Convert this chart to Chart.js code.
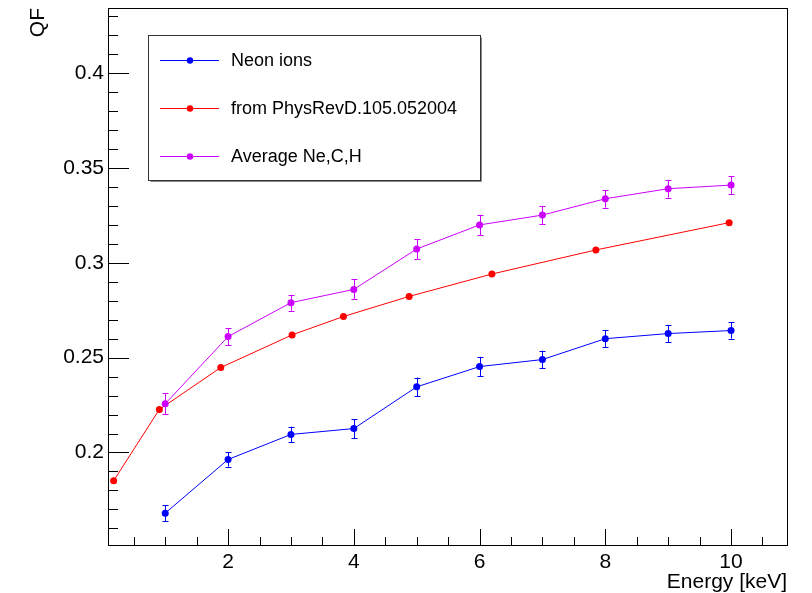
<!DOCTYPE html>
<html>
<head>
<meta charset="utf-8">
<script src="https://cdn.jsdelivr.net/npm/chart.js@4/dist/chart.umd.min.js"></script>
<style>
  html, body { margin: 0; padding: 0; background: #fff; }
  #wrap { width: 812px; height: 593px; }
</style>
</head>
<body>
<div id="wrap"><canvas id="c" width="812" height="593"></canvas></div>
<script>
// ---- data ----
const energies = [1, 2, 3, 4, 5, 6, 7, 8, 9, 10];
const neonQF   = [0.1680, 0.1963, 0.2095, 0.2126, 0.2346, 0.2453, 0.2490, 0.2600, 0.2627, 0.2643];
const neonErr  = [0.0043, 0.0038, 0.0041, 0.0050, 0.0049, 0.0051, 0.0047, 0.0046, 0.0046, 0.0043];
const avgQF    = [0.2257, 0.2611, 0.2790, 0.2860, 0.3073, 0.3200, 0.3252, 0.3338, 0.3391, 0.3410];
const avgErr   = [0.0056, 0.0046, 0.0042, 0.0053, 0.0053, 0.0053, 0.0049, 0.0047, 0.0047, 0.0047];
const prdE     = [0.18, 0.907, 1.884, 3.018, 3.835, 4.88, 6.196, 7.85, 9.97];
const prdQF    = [0.1851, 0.2227, 0.2448, 0.2620, 0.2717, 0.2823, 0.2941, 0.3068, 0.3212];
const seriesNames = ["Neon ions", "from PhysRevD.105.052004", "Average Ne,C,H"];
const xMajorTicks = [2, 4, 6, 8, 10];
const yMajorTicks = [0.2, 0.25, 0.3, 0.35, 0.4];
const xTitle = "Energy [keV]";
const yTitle = "QF";

const FONT = '"Liberation Sans", Arial, Helvetica, sans-serif';
const colors = ['#0000ff', '#ff0000', '#cc00ff'];

const toXY = (xs, ys) => xs.map((x, i) => ({ x: x, y: ys[i] }));

const errorsByDataset = [neonErr, null, avgErr];

const rootPlugin = {
  id: 'rootStyle',
  beforeDatasetsDraw(chart) {
    const ctx = chart.ctx;
    const xs = chart.scales.x, ys = chart.scales.y;
    ctx.save();
    // error bars
    chart.data.datasets.forEach((ds, di) => {
      const errs = errorsByDataset[di];
      if (!errs) return;
      ctx.strokeStyle = ds.borderColor;
      ctx.lineWidth = 1;
      ds.data.forEach((p, i) => {
        const px = Math.round(xs.getPixelForValue(p.x)) + 0.5;
        const y1 = ys.getPixelForValue(p.y - errs[i]);
        const y2 = ys.getPixelForValue(p.y + errs[i]);
        ctx.beginPath();
        ctx.moveTo(px, y1); ctx.lineTo(px, y2);
        ctx.moveTo(px - 3, Math.round(y1) + 0.5); ctx.lineTo(px + 3, Math.round(y1) + 0.5);
        ctx.moveTo(px - 3, Math.round(y2) + 0.5); ctx.lineTo(px + 3, Math.round(y2) + 0.5);
        ctx.stroke();
      });
    });
    ctx.restore();
  },
  afterDraw(chart) {
    const ctx = chart.ctx;
    const xs = chart.scales.x, ys = chart.scales.y;
    const a = chart.chartArea;
    ctx.save();
    // frame
    ctx.strokeStyle = '#000';
    ctx.lineWidth = 1;
    ctx.strokeRect(Math.round(a.left) + 0.5, Math.round(a.top) + 0.5,
                   Math.round(a.right - a.left), Math.round(a.bottom - a.top));
    // x ticks (major every 2, minor every 0.5)
    ctx.beginPath();
    for (let v = 0.5; v <= 10.76; v += 0.5) {
      const px = Math.round(xs.getPixelForValue(v)) + 0.5;
      if (px < a.left || px > a.right) continue;
      const major = xMajorTicks.some(t => Math.abs(t - v) < 1e-6);
      const len = major ? 16 : 8;
      ctx.moveTo(px, a.bottom); ctx.lineTo(px, a.bottom - len);
    }
    // y ticks (major every 0.05, minor every 0.01)
    for (let k = 16; k <= 43; k++) {
      const v = k / 100;
      const py = Math.round(ys.getPixelForValue(v)) + 0.5;
      if (py < a.top || py > a.bottom) continue;
      const major = yMajorTicks.some(t => Math.abs(t - v) < 1e-6);
      const len = major ? 21 : 10;
      ctx.moveTo(a.left, py); ctx.lineTo(a.left + len, py);
    }
    ctx.stroke();

    // axis titles
    ctx.fillStyle = '#000';
    ctx.font = '21px ' + FONT;
    ctx.textAlign = 'right';
    ctx.textBaseline = 'alphabetic';
    ctx.fillText(xTitle, a.right, 588);
    ctx.save();
    ctx.translate(44, a.top);
    ctx.rotate(-Math.PI / 2);
    ctx.textAlign = 'right';
    ctx.textBaseline = 'alphabetic';
    ctx.fillText(yTitle, 0, 0);
    ctx.restore();

    // legend box
    const lx = 148.5, ly = 35.5, lw = 332, lh = 145;
    ctx.fillStyle = '#fff';
    ctx.fillRect(lx, ly, lw, lh);
    ctx.strokeStyle = '#888';
    ctx.beginPath();
    ctx.moveTo(lx + lw + 1, ly + 2); ctx.lineTo(lx + lw + 1, ly + lh + 1); ctx.lineTo(lx + 2, ly + lh + 1);
    ctx.stroke();
    ctx.strokeStyle = '#333';
    ctx.strokeRect(lx, ly, lw, lh);
    const rows = [60, 108, 156];
    ctx.font = '18px ' + FONT;
    ctx.textAlign = 'left';
    ctx.textBaseline = 'middle';
    seriesNames.forEach((name, i) => {
      const yy = rows[i] + 0.5;
      ctx.strokeStyle = colors[i];
      ctx.lineWidth = 1;
      ctx.beginPath();
      ctx.moveTo(160, yy); ctx.lineTo(219, yy);
      ctx.stroke();
      ctx.fillStyle = colors[i];
      ctx.beginPath();
      ctx.arc(190, yy, 3.2, 0, Math.PI * 2);
      ctx.fill();
      ctx.fillStyle = '#000';
      ctx.fillText(name, 231, rows[i] + 1);
    });
    ctx.restore();
  }
};

new Chart(document.getElementById('c'), {
  type: 'scatter',
  data: {
    datasets: [
      { label: seriesNames[0], data: toXY(energies, neonQF), borderColor: colors[0], backgroundColor: colors[0], order: 2 },
      { label: seriesNames[1], data: toXY(prdE, prdQF), borderColor: colors[1], backgroundColor: colors[1], order: 3 },
      { label: seriesNames[2], data: toXY(energies, avgQF), borderColor: colors[2], backgroundColor: colors[2], order: 1 }
    ].map(d => Object.assign(d, { showLine: true, borderWidth: 1, pointRadius: 3.5, pointBorderWidth: 0, tension: 0 }))
  },
  options: {
    responsive: false,
    devicePixelRatio: 1,
    animation: false,
    layout: { padding: { top: 8, right: 25, left: 0, bottom: 0 } },
    plugins: { legend: { display: false }, tooltip: { enabled: false }, title: { display: false } },
    scales: {
      x: {
        type: 'linear', min: 0.09, max: 10.89,
        grid: { display: false, drawTicks: false },
        border: { display: false },
        afterBuildTicks: s => { s.ticks = xMajorTicks.map(v => ({ value: v })); },
        afterFit: s => { s.height = 48; s.paddingLeft = 0; s.paddingRight = 0; },
        ticks: { color: '#000', font: { family: FONT, size: 21 }, padding: 5, maxRotation: 0, callback: v => String(v) }
      },
      y: {
        type: 'linear', min: 0.1512, max: 0.4344,
        grid: { display: false, drawTicks: false },
        border: { display: false },
        afterBuildTicks: s => { s.ticks = yMajorTicks.map(v => ({ value: v })); },
        afterFit: s => { s.width = 108; s.paddingTop = 0; s.paddingBottom = 0; },
        ticks: { color: '#000', font: { family: FONT, size: 21 }, padding: 4, callback: v => String(Math.round(v * 100) / 100) }
      }
    }
  },
  plugins: [rootPlugin]
});
</script>
</body>
</html>
